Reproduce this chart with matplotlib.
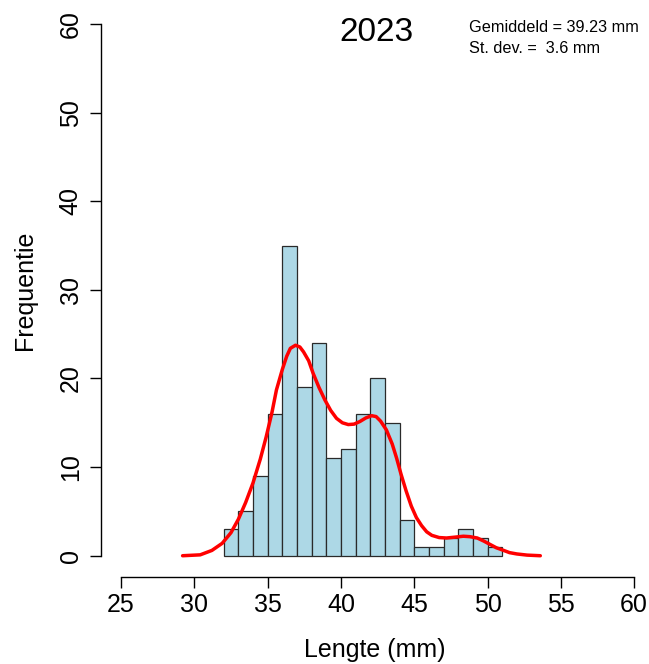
import numpy as np
import matplotlib
matplotlib.use('Agg')
import matplotlib.pyplot as plt

plt.rcParams['font.family'] = ['Liberation Sans', 'DejaVu Sans']

# histogram: left edge of each 1 mm bin and its count
bin_left = [32, 33, 34, 35, 36, 37, 38, 39, 40, 41, 42, 43, 44, 45, 46, 47, 48, 49, 50]
counts = [3, 5, 9, 16, 35, 19, 24, 11, 12, 16, 20, 15, 4, 1, 1, 2, 3, 2, 1]
bin_width = 1

# density curve (scaled to counts)
curve_x = [29.2, 30.4, 31.2, 31.9, 32.5, 33.0, 33.5, 34.0, 34.5, 34.9, 35.3, 35.6,
           36.0, 36.3, 36.55, 36.9, 37.2, 37.45, 37.8, 38.1, 38.5, 38.9, 39.3,
           39.7, 40.1, 40.5, 40.9, 41.3, 41.7, 42.1, 42.4, 42.7, 43.1, 43.5,
           43.8, 44.1, 44.45, 44.8, 45.15, 45.5, 45.85, 46.2, 46.7, 47.2, 47.8,
           48.35, 48.8, 49.3, 49.75, 50.2, 50.6, 51.1, 51.5, 52.0, 52.7, 53.6]
curve_y = [0.0, 0.1, 0.6, 1.4, 2.6, 4.1, 6.0, 8.2, 10.9, 13.4, 16.2, 18.7,
           21.0, 22.5, 23.4, 23.75, 23.55, 23.0, 22.0, 20.6, 19.0, 17.6, 16.4,
           15.5, 15.0, 14.8, 14.85, 15.15, 15.55, 15.8, 15.7, 15.2, 14.2, 12.6,
           11.0, 9.2, 7.3, 5.6, 4.3, 3.4, 2.7, 2.3, 2.05, 2.0, 2.1,
           2.2, 2.15, 2.0, 1.65, 1.25, 0.9, 0.6, 0.35, 0.2, 0.07, 0.0]

xticks = [25, 30, 35, 40, 45, 50, 55, 60]
yticks = [0, 10, 20, 30, 40, 50, 60]

title = '2023'
stats_lines = ['Gemiddeld = 39.23 mm', 'St. dev. =  3.6 mm']

W, H = 649, 664
fig = plt.figure(figsize=(W / 100, H / 100), dpi=100)
px_per_mm = 14.66
left_px, bottom_px, top_px = 100.5, 577, 2.7
ax = fig.add_axes([left_px / W, (H - bottom_px) / H, (W - left_px) / W, (bottom_px - top_px) / H])

ax.bar(bin_left, counts, width=bin_width, align='edge', color='#add8e6',
       edgecolor='#2a2a2a', linewidth=0.9, zorder=2)
ax.plot(curve_x, curve_y, color='red', lw=2.5, zorder=3,
        solid_capstyle='round', solid_joinstyle='round')

ax.set_xlim(23.6, 23.6 + (W - left_px) / px_per_mm)
ax.set_ylim(-2.4, 62.4)

for s in ['top', 'right']:
    ax.spines[s].set_visible(False)
ax.spines['left'].set_bounds(0, 60)
ax.spines['bottom'].set_bounds(25, 60)
for s in ['left', 'bottom']:
    ax.spines[s].set_linewidth(1.0)
    ax.spines[s].set_color('black')

ax.set_xticks(xticks)
ax.set_yticks(yticks)
ax.set_yticklabels([str(v) for v in yticks], rotation=90, va='center')
ax.tick_params(axis='both', length=7.7, width=1.0, labelsize=18)
ax.tick_params(axis='x', pad=4)
ax.tick_params(axis='y', pad=5)

ax.set_xlabel('Lengte (mm)', fontsize=18, labelpad=15)
ax.set_ylabel('Frequentie', fontsize=18, labelpad=16)

fig.text(376 / W, 1 - 41 / H, title, fontsize=24, ha='center', va='baseline')
fig.text(469 / W, 1 - 31.5 / H, stats_lines[0], fontsize=11.7, ha='left', va='baseline')
fig.text(469 / W, 1 - 53 / H, stats_lines[1], fontsize=11.7, ha='left', va='baseline')

fig.savefig('out.png', dpi=100)
